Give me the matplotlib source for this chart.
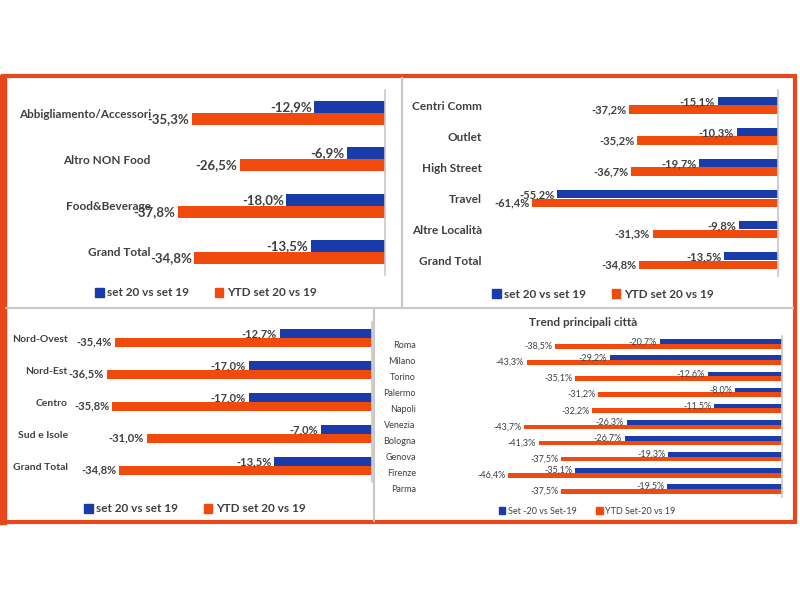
import matplotlib
matplotlib.use("Agg")
import matplotlib.pyplot as plt
from matplotlib.patches import Rectangle, Patch
from matplotlib.lines import Line2D

plt.rcParams['font.family'] = ['Lato', 'DejaVu Sans']

BLUE = '#1a3caa'
ORANGE = '#f04a0c'
FRAME = '#e8471a'
TEXT = '#404040'
GRID = '#c8c8c8'
W, H = 800, 600

# categorie merceologiche
cat_merc = ['Abbigliamento/Accessori', 'Altro NON Food', 'Food&Beverage', 'Grand Total']
merc_set = [-12.9, -6.9, -18.0, -13.5]
merc_ytd = [-35.3, -26.5, -37.8, -34.8]

# location
cat_loc = ['Centri Comm', 'Outlet', 'High Street', 'Travel', 'Altre Località', 'Grand Total']
loc_set = [-15.1, -10.3, -19.7, -55.2, -9.8, -13.5]
loc_ytd = [-37.2, -35.2, -36.7, -61.4, -31.3, -34.8]

# aree geografiche
cat_area = ['Nord-Ovest', 'Nord-Est', 'Centro', 'Sud e Isole', 'Grand Total']
area_set = [-12.7, -17.0, -17.0, -7.0, -13.5]
area_ytd = [-35.4, -36.5, -35.8, -31.0, -34.8]

# città
cat_city = ['Roma', 'Milano', 'Torino', 'Palermo', 'Napoli', 'Venezia',
            'Bologna', 'Genova', 'Firenze', 'Parma']
city_set = [-20.7, -29.2, -12.6, -8.0, -11.5, -26.3, -26.7, -19.3, -35.1, -19.5]
city_ytd = [-38.5, -43.3, -35.1, -31.2, -32.2, -43.7, -41.3, -37.5, -46.4, -37.5]

legend_std = ['set 20 vs set 19', 'YTD set 20 vs 19']
legend_city = ['Set -20 vs Set-19', 'YTD Set-20 vs 19']


def px(x0, y0, x1, y1):
    return [x0 / W, 1 - y1 / H, (x1 - x0) / W, (y1 - y0) / H]


def fmt(v):
    return f"{v:.1f}%".replace('.', ',')


def panel(fig, box, cats, s1, s2, xmin, bh, cat_fs, val_fs, bold=True):
    ax = fig.add_axes(px(*box))
    y = list(range(len(cats)))
    w = 'bold' if bold else 'normal'
    b1 = ax.barh([i - bh / 2 for i in y], s1, height=bh, color=BLUE)
    b2 = ax.barh([i + bh / 2 for i in y], s2, height=bh, color=ORANGE)
    ax.bar_label(b1, labels=[fmt(v) for v in s1], padding=2, fontsize=val_fs,
                 color=TEXT, fontweight=w)
    ax.bar_label(b2, labels=[fmt(v) for v in s2], padding=2, fontsize=val_fs,
                 color=TEXT, fontweight=w)
    ax.set_xlim(xmin, 0)
    ax.set_ylim(len(cats) - 0.5, -0.5)
    ax.set_yticks(y)
    ax.set_yticklabels(cats, fontsize=cat_fs, color=TEXT, fontweight=w)
    ax.tick_params(axis='y', length=0, pad=3)
    ax.set_xticks([])
    for s in ['top', 'bottom', 'left']:
        ax.spines[s].set_visible(False)
    ax.spines['right'].set_color(GRID)
    ax.spines['right'].set_linewidth(1.2)
    ax.patch.set_alpha(0)
    return ax


def legend(fig, labels, cx, cy, fs, bold=True):
    handles = [Patch(color=BLUE), Patch(color=ORANGE)]
    fig.legend(handles, labels, loc='center', bbox_to_anchor=(cx / W, 1 - cy / H),
               ncol=2, frameon=False, handlelength=0.7,
               handleheight=0.7, handletextpad=0.3, columnspacing=2.2,
               prop={'size': fs, 'weight': 'bold' if bold else 'normal'},
               labelcolor=TEXT)


fig = plt.figure(figsize=(8, 6), dpi=100)

panel(fig, (155, 90, 385, 275), cat_merc, merc_set, merc_ytd, -42, 0.26, 8.5, 9.5)
legend(fig, legend_std, 206, 293, 8.5)

panel(fig, (486, 90, 778, 276), cat_loc, loc_set, loc_ytd, -73, 0.26, 8.5, 8)
legend(fig, legend_std, 603, 294, 8.5)

panel(fig, (72, 322, 372, 482), cat_area, area_set, area_ytd, -41.3, 0.27, 7.5, 8)
legend(fig, legend_std, 195, 509, 8.5)

panel(fig, (420, 336, 782, 497), cat_city, city_set, city_ytd, -61.4, 0.29,
      6.5, 6.5, bold=False)
fig.text(583 / W, 1 - 322 / H, 'Trend principali città', ha='center', va='center',
         fontsize=8.5, fontweight='bold', color=TEXT)
legend(fig, legend_city, 587, 511, 6.5, bold=False)

# gray dividers
t = fig.transFigure
fig.add_artist(Line2D([6 / W, 793 / W], [1 - 308 / H] * 2, color=GRID, lw=1.5, transform=t))
fig.add_artist(Line2D([402 / W] * 2, [1 - 78 / H, 1 - 308 / H], color=GRID, lw=1.5, transform=t))
fig.add_artist(Line2D([374 / W] * 2, [1 - 308 / H, 1 - 521 / H], color=GRID, lw=1.5, transform=t))

# orange frame
fig.add_artist(Rectangle((3 / W, 1 - 522 / H), 792 / W, 446 / H, fill=False,
                         edgecolor=FRAME, lw=3, transform=t))
fig.add_artist(Rectangle((0, 1 - 524 / H), 6 / W, 449 / H, color=FRAME,
                         transform=t))

fig.savefig('out.png', dpi=100)
